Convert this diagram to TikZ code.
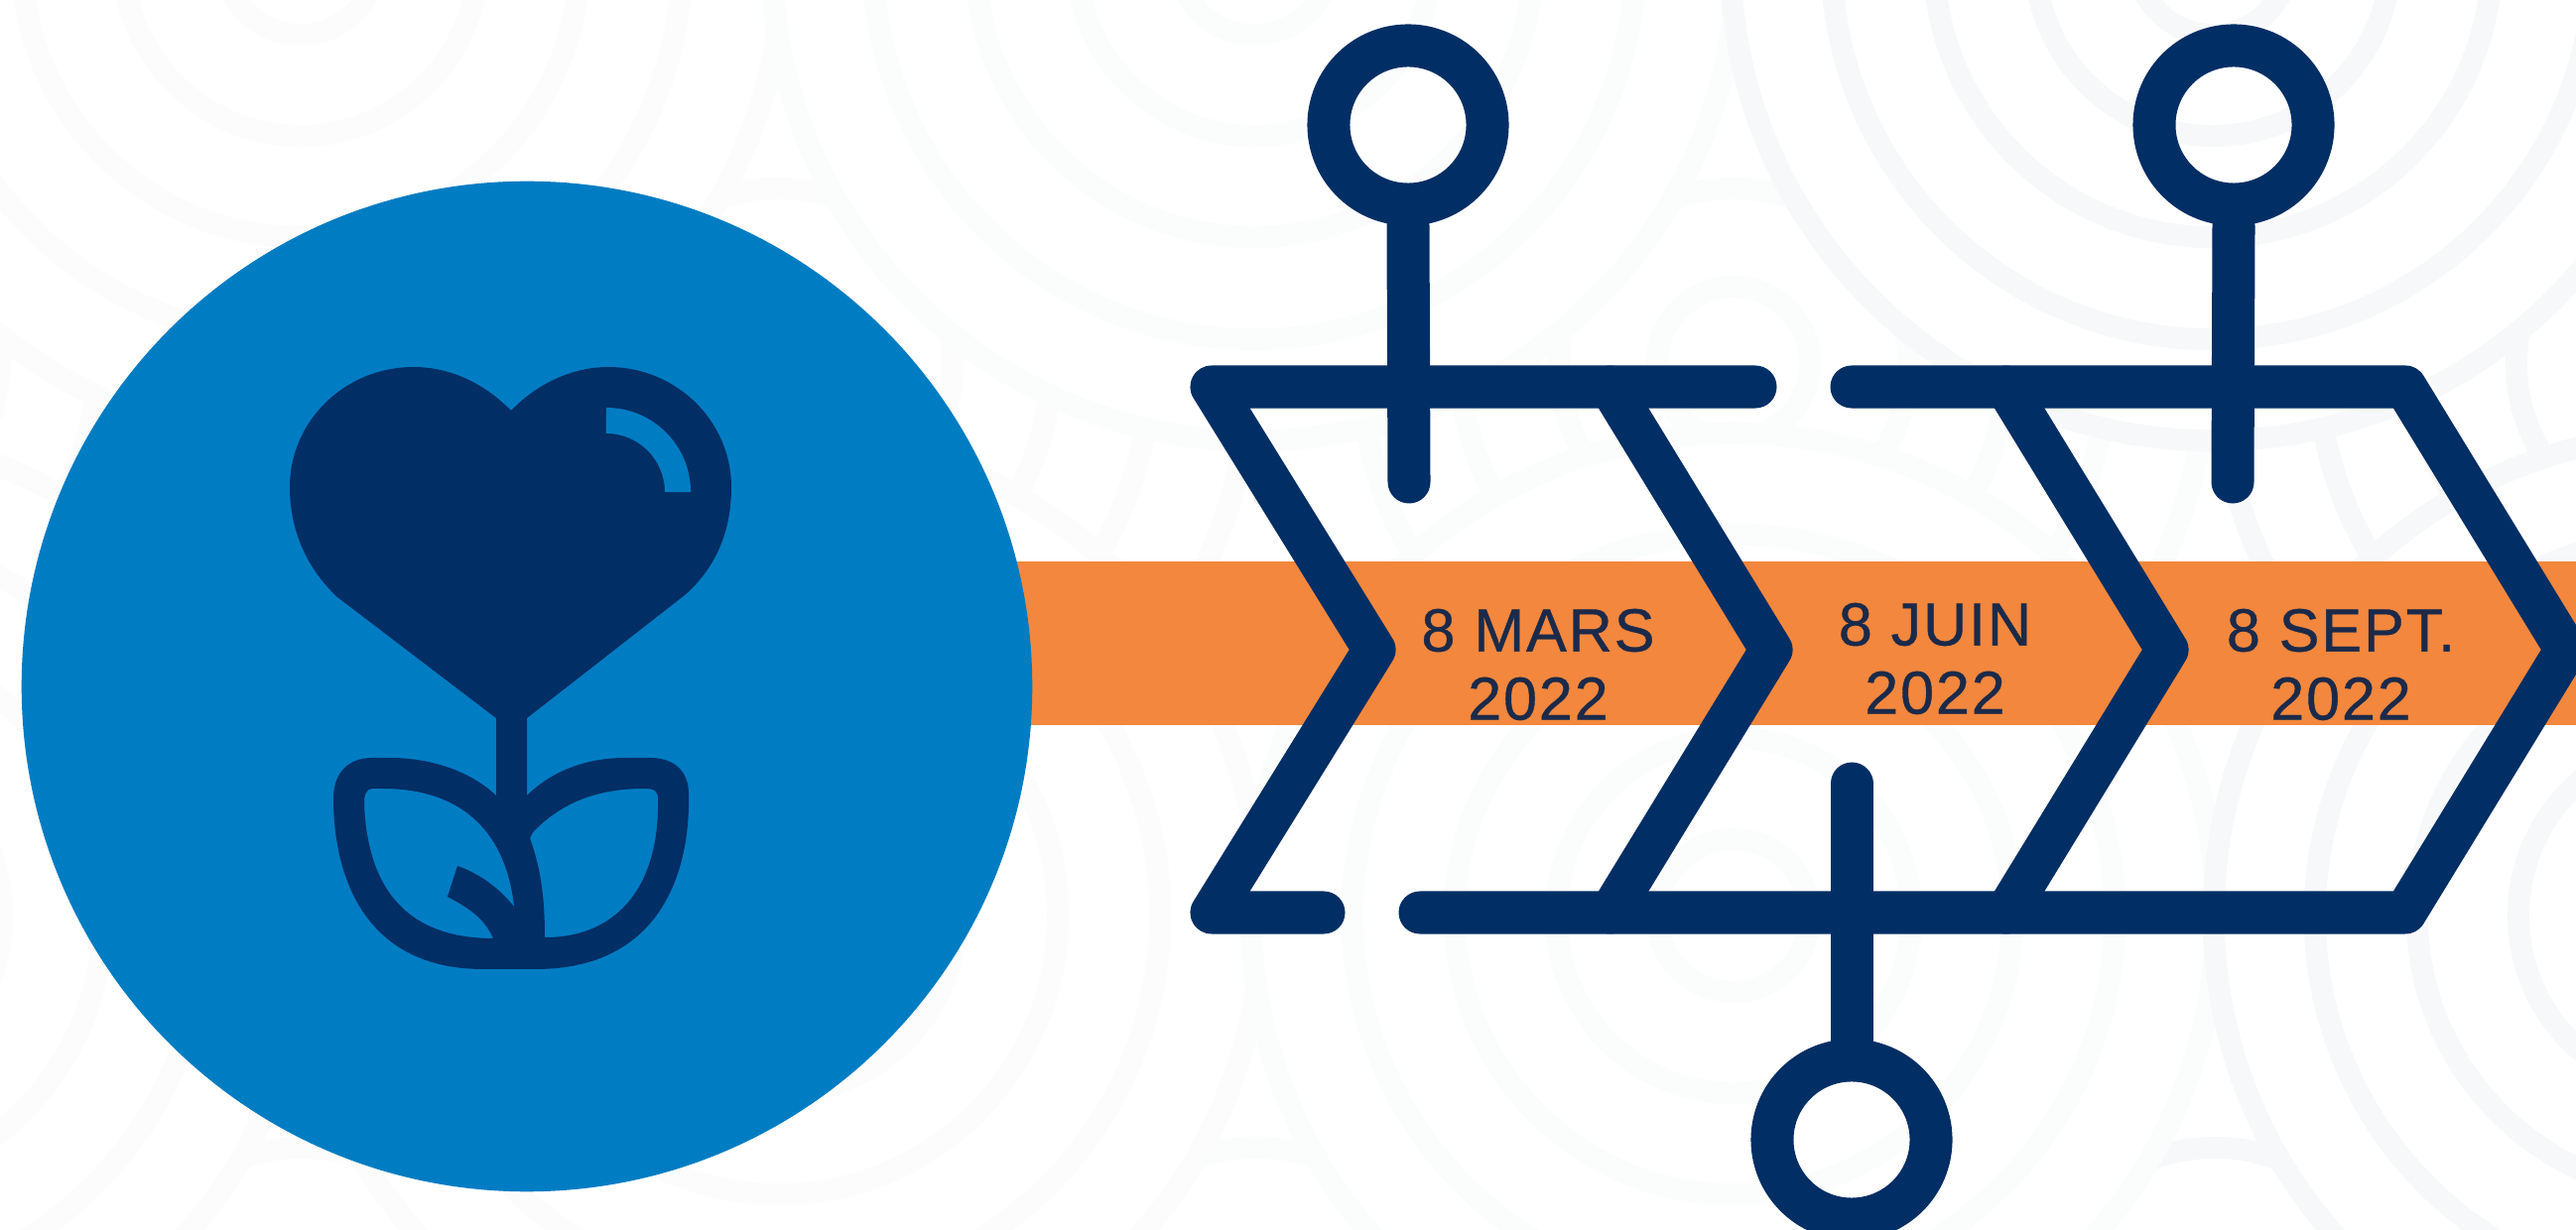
\documentclass[tikz,border=0pt]{standalone}
\usepackage{fontspec}
\setmainfont{Liberation Sans}
\newfontfamily\datefont[LetterSpace=3,FakeBold=0.6]{Liberation Sans}
\definecolor{navy}{HTML}{012E64}
\definecolor{dotblue}{HTML}{007CC3}
\definecolor{bandorange}{HTML}{F2873D}
\definecolor{inktext}{HTML}{1B2A4A}
\definecolor{patL}{HTML}{FCFCFC}
\definecolor{patM}{HTML}{FBFCFC}
\definecolor{patR}{HTML}{F7F8FA}
\tikzset{
  wave/.style={line width=0.22cm},
  navyline/.style={draw=navy,line width=0.43cm,line cap=round,line join=round},
  ringnode/.style={circle,draw=navy,line width=0.43cm,minimum size=1.6cm,inner sep=0pt},
  datelabel/.style={text=inktext,align=center,inner sep=0pt,
    font=\datefont\fontsize{17.4pt}{19.6pt}\selectfont}
}
% top layer: white disc and five full rings
\newcommand{\fullgroup}[3]{%
  \fill[white] (#1,#2) circle[radius=4.97cm];
  \foreach \rr in {0.77,1.79,2.81,3.84,4.86}{\draw[wave,#3] (#1,#2) circle[radius=\rr cm];}
}
% lower layer: two full inner rings, lower halves of the outer rings
\newcommand{\halfgroup}[3]{%
  \foreach \rr in {0.77,1.76}{\draw[wave,#3] (#1,#2) circle[radius=\rr cm];}
  \foreach \rr in {2.75,3.76,4.76}{\draw[wave,#3] ([xshift=-\rr cm]#1,#2) arc[start angle=180,end angle=360,radius=\rr cm];}
}
\begin{document}
\begin{tikzpicture}[x=0.01cm,y=-0.01cm]
\useasboundingbox (0,0) rectangle (2596,1240);
\fill[white] (0,0) rectangle (2596,1240);
\begin{scope}
\clip (0,0) rectangle (2596,1240);
% lower layer
\halfgroup{-177}{366}{patL}
\halfgroup{784}{366}{patL}
\halfgroup{1747}{366}{patM}
\halfgroup{2712}{366}{patR}
\halfgroup{303}{1333}{patL}
\halfgroup{1266}{1333}{patM}
\halfgroup{2232}{1333}{patR}
% top layer
\fullgroup{303}{-42}{patL}
\fullgroup{1264}{-42}{patM}
\fullgroup{2230}{-42}{patR}
\fullgroup{-177}{923}{patL}
\fullgroup{785}{923}{patL}
\fullgroup{1747}{923}{patM}
\fullgroup{2717}{923}{patR}
\end{scope}
% orange band
\fill[bandorange] (1000,566) rectangle (2596,731);
% blue disc
\node[circle,fill=dotblue,minimum size=10.18cm,inner sep=0pt] (disc) at (531,692) {};
% heart and leaves icon
\fill[navy,even odd rule]
 (515,414) .. controls (540,388) and (575,370) .. (613,370)
 .. controls (682,370) and (737,425) .. (737,491)
 .. controls (737,535) and (722,572) .. (690,600)
 -- (531,724) -- (531,802)
 .. controls (555,778) and (590,764) .. (630,764)
 -- (655,764)
 .. controls (680,764) and (694,778) .. (694,800)
 .. controls (696,880) and (665,977) .. (540,977)
 -- (487,977)
 .. controls (365,977) and (336,880) .. (336,805)
 .. controls (336,780) and (350,764) .. (375,764)
 -- (393,764)
 .. controls (435,764) and (475,778) .. (500,802)
 -- (500,724) -- (340,602)
 .. controls (308,572) and (292,533) .. (292,491)
 .. controls (292,425) and (347,370) .. (417,370)
 .. controls (455,370) and (490,388) .. (515,414) -- cycle
 (375,795) .. controls (369,795) and (367,802) .. (367,810)
 .. controls (370,890) and (405,946) .. (497,946)
 .. controls (488,925) and (470,914) .. (451,904)
 -- (461,873)
 .. controls (482,880) and (503,895) .. (518,914)
 .. controls (512,855) and (480,795) .. (385,795) -- cycle
 (650,795) .. controls (660,795) and (663,798) .. (663,805)
 .. controls (665,890) and (625,945) .. (549,945)
 .. controls (549,905) and (545,875) .. (534,845)
 -- (537,839)
 .. controls (565,810) and (600,795) .. (650,795) -- cycle;
\fill[dotblue] (611,411) arc[start angle=90,end angle=0,radius=0.85cm]
 -- (670,496) arc[start angle=0,end angle=90,radius=0.59cm] -- cycle;
% chevron vertices
\coordinate (a1) at (1769,390);
\coordinate (a2) at (1221,390);
\coordinate (a3) at (1385,655);
\coordinate (a4) at (1221,920);
\coordinate (a5) at (1334,920);
\coordinate (b1) at (1866,390);
\coordinate (b2) at (2424,390);
\coordinate (b3) at (2586,655);
\coordinate (b4) at (2424,920);
\coordinate (b5) at (1431,920);
\coordinate (c1) at (1623,390);
\coordinate (c2) at (1785,655);
\coordinate (c3) at (1623,920);
\coordinate (d1) at (2022,390);
\coordinate (d2) at (2184,655);
\coordinate (d3) at (2022,920);
% pins
\node[ringnode] (ring1) at (1419,126) {};
\node[ringnode] (ring2) at (2251,126) {};
\node[ringnode] (ring3) at (1866,1149) {};
\coordinate (end1) at (1420,486);
\coordinate (end2) at (2250,486);
\coordinate (end3) at (1866,790);
\draw[navyline] (a1) -- (a2) -- (a3) -- (a4) -- (a5);
\draw[navyline] (b1) -- (b2) -- (b3) -- (b4) -- (b5);
\draw[navyline] (c1) -- (c2) -- (c3);
\draw[navyline] (d1) -- (d2) -- (d3);
\draw[navyline] (ring1.south) -- (end1);
\draw[navyline] (ring2.south) -- (end2);
\draw[navyline] (ring3.north) -- (end3);
% dates
\node[datelabel] (t1) at (1550,670) {8 MARS\\2022};
\node[datelabel] (t2) at (1950,664) {8 JUIN\\2022};
\node[datelabel] (t3) at (2359,670) {8 SEPT.\\2022};
\end{tikzpicture}
\end{document}
